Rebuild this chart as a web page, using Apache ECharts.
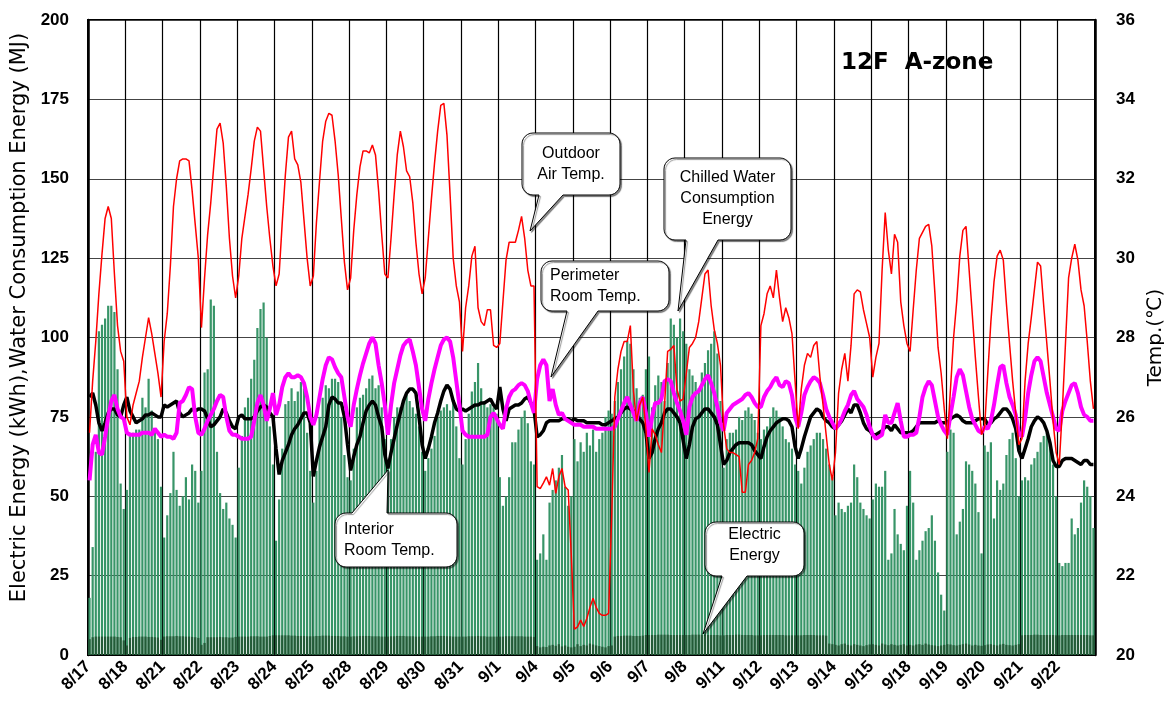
<!DOCTYPE html>
<html>
<head>
<meta charset="utf-8">
<script src="https://cdn.jsdelivr.net/npm/echarts@6/dist/echarts.min.js"></script>
<style>
  html, body { margin: 0; padding: 0; background: #fff; }
  #chart { width: 1164px; height: 718px; }
</style>
</head>
<body>
<div id="chart"></div>
<script>
// Measurement days (12 two-hour readings per day)
const days = ['8/17','8/18','8/21','8/22','8/23','8/24','8/25','8/28','8/29','8/30','8/31','9/1','9/4',
  '9/5','9/6','9/7','9/8','9/11','9/12','9/13','9/14','9/15','9/18','9/19','9/20','9/21','9/22'];
const slotsPerDay = 12;

// Outdoor air temperature (°C)
const outdoorTemp = [
  25.6, 26.9, 27.9, 29.1, 30.1, 31.0, 31.3, 31.0, 29.6, 28.3, 27.65, 27.4,
  26.0, 25.8, 26.3, 26.6, 26.9, 27.5, 28.0, 28.5, 28.1, 27.6, 27.1, 26.5,
  27.9, 28.6, 29.8, 31.3, 32.0, 32.45, 32.5, 32.5, 32.45, 31.7, 30.85, 30.0,
  28.25, 29.5, 30.6, 31.4, 32.35, 33.25, 33.4, 32.9, 31.8, 30.5, 29.55, 29.0,
  29.55, 30.5, 31.05, 31.6, 32.25, 32.95, 33.3, 33.2, 32.25, 31.3, 30.5, 29.8,
  29.3, 29.6, 30.9, 32.1, 33.05, 33.2, 32.5, 32.35, 31.9, 30.95, 30.0, 29.3,
  29.55, 30.9, 31.95, 32.95, 33.45, 33.65, 33.6, 32.95, 32.1, 31.0, 29.9, 29.2,
  29.5, 30.7, 31.6, 32.3, 32.7, 32.7, 32.65, 32.85, 32.6, 31.7, 30.6, 29.6,
  29.5, 30.5, 31.6, 32.6, 33.2, 32.8, 32.2, 32.05, 31.4, 30.4, 29.6, 29.1,
  29.5, 30.5, 31.5, 32.4, 33.2, 33.85, 33.9, 33.1, 31.6, 30.0, 29.3, 28.9,
  27.65, 28.75, 29.3, 30.05, 30.3, 28.75, 28.4, 28.3, 28.7, 28.7, 27.8, 27.75,
  27.85, 28.9, 29.95, 30.4, 30.4, 30.4, 30.7, 31.05, 30.5, 29.7, 29.3, 29.3,
  24.24, 24.19, 24.33, 24.49, 24.28, 24.7, 24.07, 24.49, 24.7, 24.24, 24.16, 22.5,
  20.65, 20.71, 20.88, 20.72, 20.92, 21.2, 21.43, 21.2, 21.05, 21.0, 21.0, 21.05,
  23.5, 26.5, 27.2, 27.65, 27.9, 27.9, 28.3, 26.65, 25.9, 26.3, 26.5, 25.7,
  24.6, 25.7, 25.55, 25.3, 25.1, 26.3, 27.65, 27.7, 27.8, 26.7, 26.4, 26.45,
  27.1, 27.75, 27.85, 28.0, 28.4, 29.0, 29.6, 29.7, 28.8, 28.2, 27.85, 27.3,
  25.8, 25.2, 25.1, 25.1, 25.05, 25.0, 24.1, 24.1, 24.8, 24.9, 25.1, 25.45,
  28.3, 28.6, 29.1, 29.3, 29.0, 29.7, 29.0, 28.4, 28.75, 28.5, 28.1, 26.9,
  25.7, 26.7, 27.3, 27.6, 27.5, 27.8, 27.9, 27.0, 26.3, 25.55, 24.8, 24.4,
  25.1, 26.6, 27.2, 27.6, 26.9, 27.8, 29.1, 29.2, 29.15, 28.7, 28.35, 28.0,
  27.0, 27.5, 27.85, 29.7, 31.15, 30.2, 29.6, 30.6, 30.4, 28.9, 28.3, 27.85,
  27.65, 28.7, 29.7, 30.5, 30.65, 30.8, 30.85, 30.3, 29.1, 27.75, 27.1, 26.2,
  25.45, 26.7, 28.0, 28.9, 30.05, 30.7, 30.8, 29.7, 28.6, 27.5, 26.5, 25.55,
  25.75, 27.1, 28.4, 29.4, 30.05, 30.2, 29.95, 28.85, 27.85, 26.9, 26.1, 25.3,
  25.45, 26.9, 27.85, 28.5, 29.2, 29.9, 29.8, 28.8, 27.85, 26.9, 25.9, 25.1,
  24.8, 26.2, 27.85, 29.5, 30.0, 30.35, 29.95, 29.2, 28.8, 27.9, 26.9, 26.2
];

// Perimeter room temperature (°C)
const perimeterTemp = [
  24.4, 25.3, 25.55, 25.1, 25.05, 25.5, 26.0, 26.4, 26.55, 26.2, 26.0, 25.95,
  25.6, 25.55, 25.55, 25.55, 25.55, 25.6, 25.6, 25.6, 25.55, 25.7, 25.6, 25.5,
  25.55, 25.5, 25.5, 25.45, 25.6, 26.35, 26.4, 26.55, 26.75, 26.7, 26.0, 25.6,
  25.55, 25.7, 25.9, 26.05, 26.2, 26.4, 26.55, 26.5, 26.0, 25.65, 25.55, 25.55,
  25.5, 25.45, 25.45, 25.45, 25.5, 25.9, 26.35, 26.55, 26.3, 25.9, 26.2, 26.6,
  26.05, 26.3, 26.75, 27.0, 27.1, 27.0, 27.0, 27.05, 27.0, 26.85, 26.5, 26.0,
  25.8, 26.05, 26.5, 26.95, 27.3, 27.5, 27.45, 27.25, 27.1, 27.0, 26.5, 26.0,
  25.75, 26.3, 26.7, 27.05, 27.35, 27.6, 27.85, 28.0, 27.85, 27.3, 26.85, 26.3,
  25.55, 26.3, 26.85, 27.2, 27.55, 27.8, 27.9, 27.95, 27.65, 27.3, 26.75, 26.2,
  25.9, 26.45, 26.85, 27.2, 27.5, 27.8, 27.95, 28.0, 27.9, 27.5, 26.9, 26.3,
  25.65, 25.55, 25.5, 25.5, 25.5, 25.5, 25.5, 25.5, 25.55, 26.0, 26.1, 25.95,
  25.8, 25.7, 26.2, 26.5, 26.65, 26.7, 26.8, 26.85, 26.8, 26.65, 26.35, 26.1,
  26.95, 27.3, 27.45, 27.3, 26.4, 26.7, 26.3, 26.05, 26.1, 25.95, 25.9, 25.85,
  25.8, 25.8, 25.8, 25.75, 25.75, 25.75, 25.75, 25.7, 25.7, 25.7, 25.7, 25.7,
  25.7, 25.75, 25.95, 26.15, 26.35, 26.5, 26.3, 26.1, 25.9, 26.35, 26.5, 26.1,
  25.5, 26.0, 26.35, 26.35, 26.45, 26.9, 26.95, 26.9, 26.6, 26.35, 26.15, 25.9,
  25.55, 26.25, 26.5, 26.6, 26.65, 26.8, 26.95, 27.05, 26.85, 26.6, 26.25, 25.85,
  25.65, 26.1, 26.2, 26.3, 26.35, 26.4, 26.45, 26.55, 26.6, 26.5, 26.35, 26.25,
  26.25, 26.5, 26.65, 26.75, 26.9, 27.0, 26.8, 26.75, 26.9, 26.85, 26.55, 26.0,
  25.75, 26.1, 26.55, 26.75, 26.9, 27.0, 26.95, 26.85, 26.55, 26.2, 26.0, 25.85,
  25.7, 25.8, 25.95, 26.15, 26.3, 26.55, 26.65, 26.45, 26.35, 26.25, 26.05, 25.75,
  25.55, 25.45, 25.5, 25.55, 26.05, 25.85, 25.85, 26.1, 26.35, 25.9, 25.5, 25.5,
  25.55, 25.55, 25.6, 26.0, 26.5, 26.75, 26.9, 26.8, 26.4, 26.0, 25.8, 25.65,
  25.55, 26.05, 26.5, 27.0, 27.2, 27.05, 26.65, 26.25, 25.95, 25.8, 25.65, 25.6,
  25.75, 25.7, 25.9, 26.3, 26.8, 27.25, 27.3, 26.85, 26.5, 26.3, 26.05, 25.6,
  25.5, 25.95, 26.6, 27.05, 27.4, 27.5, 27.4, 27.0, 26.6, 26.3, 26.0, 25.7,
  25.65, 26.15, 26.4, 26.6, 26.8, 26.85, 26.6, 26.25, 26.05, 26.0, 25.9, 25.9
];

// Interior room temperature (°C)
const interiorTemp = [
  26.5, 26.6, 26.3, 25.85, 25.65, 25.85, 26.1, 26.2, 26.2, 26.05, 26.0, 26.3,
  26.5, 26.15, 26.0, 25.85, 25.9, 25.95, 26.05, 26.05, 26.1, 26.05, 26.0, 26.0,
  26.3, 26.25, 26.3, 26.35, 26.4, 26.1, 26.0, 26.05, 26.1, 26.2, 26.15, 26.2,
  26.2, 26.15, 25.95, 25.75, 25.8, 25.9, 26.0, 26.2, 26.1, 25.9, 25.75, 25.7,
  26.0, 26.05, 25.95, 25.95, 25.95, 26.0, 26.15, 26.25, 26.3, 26.25, 26.1, 26.0,
  25.2, 24.55, 24.9, 25.1, 25.3, 25.55, 25.7, 25.8, 25.95, 26.1, 26.1, 25.85,
  24.5, 24.9, 25.25, 25.5, 25.75, 26.3, 26.5, 26.45, 26.35, 26.35, 26.0, 25.3,
  24.65, 25.0, 25.3, 25.5, 25.85, 26.15, 26.3, 26.4, 26.3, 26.0, 25.75, 25.05,
  24.7, 25.1, 25.45, 25.8, 26.1, 26.4, 26.6, 26.7, 26.7, 26.6, 26.0, 25.3,
  24.95, 25.2, 25.5, 25.85, 26.1, 26.4, 26.65, 26.8, 26.7, 26.4, 26.2, 26.15,
  26.2, 26.15, 26.2, 26.25, 26.3, 26.3, 26.35, 26.35, 26.4, 26.45, 26.3, 26.2,
  26.75, 26.2, 25.9, 26.2, 26.25, 26.3, 26.3, 26.35, 26.45, 26.5, 26.35, 26.2,
  25.5, 25.55, 25.65, 25.85, 25.9, 25.9, 25.9, 25.9, 25.95, 25.95, 25.95, 25.9,
  25.95, 25.9, 25.9, 25.9, 25.85, 25.85, 25.85, 25.85, 25.85, 25.8, 25.8, 25.85,
  25.9, 25.95, 26.0, 26.1, 26.2, 26.25, 26.2, 26.15, 26.05, 25.95, 25.85, 25.6,
  24.95, 25.1, 25.45, 25.7, 25.85, 26.1, 26.2, 26.2, 26.1, 26.0, 25.85, 25.4,
  24.95, 25.3, 25.75, 25.95, 26.0, 26.1, 26.2, 26.2, 26.1, 26.0, 25.8, 25.3,
  24.8, 24.9, 25.1, 25.2, 25.3, 25.35, 25.35, 25.35, 25.35, 25.3, 25.15, 25.05,
  24.95, 25.25, 25.5, 25.65, 25.75, 25.85, 25.9, 25.95, 25.95, 25.9, 25.75, 25.25,
  24.95, 25.2, 25.5, 25.75, 26.0, 26.1, 26.2, 26.15, 26.0, 25.9, 25.85, 25.75,
  25.7, 25.8, 25.9, 26.05, 26.2, 26.1, 26.3, 26.3, 26.1, 25.85, 25.7, 25.65,
  25.55, 25.55, 25.6, 25.65, 25.75, 25.75, 25.65, 25.8, 25.7, 25.6, 25.6, 25.6,
  25.6, 25.65, 25.75, 25.85, 25.85, 25.85, 25.85, 25.85, 25.85, 25.9, 25.85, 25.85,
  25.85, 25.95, 26.0, 26.05, 26.0, 25.9, 25.85, 25.85, 25.85, 25.9, 25.95, 25.95,
  25.95, 25.8, 25.85, 25.95, 26.0, 26.1, 26.2, 26.2, 26.1, 25.95, 25.7, 25.15,
  24.95, 25.2, 25.45, 25.75, 25.9, 26.0, 25.95, 25.85, 25.65, 25.35, 24.9, 24.75,
  24.75, 24.9, 24.95, 24.95, 24.95, 24.9, 24.85, 24.8, 24.9, 24.9, 24.8, 24.8
];

// Chilled water consumption energy (MJ)
const chilledWater = [
  18, 34, 64, 102, 104, 106, 110, 110, 108, 90, 54, 46,
  52, 70, 70, 71, 71, 81, 78, 87, 77, 71, 68, 53,
  37, 44, 51, 64, 52, 47, 50, 56, 49, 60, 58, 48,
  58, 89, 90, 112, 110, 64, 51, 46, 48, 43, 41, 37,
  59, 69, 78, 81, 87, 93, 103, 109, 111, 100, 72, 60,
  36, 49, 65, 79, 80, 84, 80, 83, 86, 84, 70, 58,
  48, 58, 75, 81, 85, 84, 87, 87, 86, 75, 63, 56,
  55, 65, 78, 81, 82, 84, 87, 88, 84, 85, 78, 68,
  59, 68, 75, 78, 78, 80, 82, 80, 78, 76, 72, 64,
  58, 62, 65, 69, 75, 77, 78, 79, 77, 80, 72, 62,
  60, 68, 76, 83, 86, 92, 84, 80, 78, 79, 78, 76,
  56, 47, 50, 56, 67, 67, 71, 75, 77, 73, 61, 60,
  30, 32, 38, 30, 48, 52, 55, 59, 63, 53, 47, 50,
  68, 61, 67, 64, 70, 66, 71, 64, 68, 70, 75, 77,
  76, 80, 86, 90, 94, 99, 98, 90, 84, 81, 82, 90,
  94, 78, 85, 88, 86, 80, 92, 106, 104, 100, 106, 102,
  98, 90, 88, 86, 84, 89, 92, 96, 98, 102, 95, 80,
  59, 68, 70, 70, 71, 75, 74, 77, 78, 76, 74, 70,
  68, 71, 72, 75, 78, 77, 75, 72, 68, 67, 65, 60,
  58, 54, 59, 64, 66, 68, 70, 70, 68, 65, 60, 56,
  44, 48, 46, 45, 47, 48, 60, 56, 48, 46, 44, 43,
  49, 54, 53, 53, 58, 30, 32, 46, 38, 35, 33, 47,
  58, 48, 30, 33, 36, 39, 40, 44, 36, 26, 19, 14,
  64, 71, 70, 38, 42, 46, 61, 60, 58, 54, 45, 32,
  66, 64, 67, 43, 55, 52, 54, 63, 68, 70, 62, 50,
  55, 56, 55, 60, 62, 64, 67, 69, 70, 66, 60, 50,
  29, 28, 29, 29, 43, 38, 40, 48, 55, 53, 50, 40
];

// Electric energy (kWh)
const electricEnergy = [
  5.0, 5.6, 5.8, 5.8, 5.8, 5.8, 5.8, 5.8, 5.8, 5.7, 5.6, 4.6,
  3.0, 5.4, 5.7, 5.7, 5.8, 5.8, 5.8, 5.7, 5.7, 5.6, 5.5, 4.8,
  5.8, 5.9, 5.9, 5.9, 6.0, 5.9, 5.9, 5.8, 5.8, 5.7, 5.6, 5.4,
  3.2, 3.8, 5.6, 5.6, 5.6, 5.6, 5.7, 5.6, 5.6, 5.5, 5.5, 5.7,
  5.8, 5.8, 5.8, 5.8, 5.9, 5.9, 5.9, 5.8, 5.8, 5.8, 6.0, 6.2,
  6.2, 6.2, 6.2, 6.2, 6.2, 6.1, 6.1, 6.0, 6.0, 6.0, 5.9, 5.9,
  5.9, 6.0, 6.0, 6.1, 6.1, 6.1, 6.0, 6.0, 6.0, 5.9, 5.9, 5.8,
  5.8, 5.9, 5.9, 6.0, 6.0, 6.0, 6.0, 5.9, 5.9, 5.9, 5.8, 5.8,
  5.8, 5.9, 5.9, 6.0, 6.0, 6.0, 5.9, 5.9, 5.9, 5.8, 5.8, 5.8,
  5.8, 5.8, 5.9, 5.9, 6.0, 6.0, 6.0, 5.9, 5.9, 5.8, 5.8, 5.8,
  5.8, 5.8, 5.9, 5.9, 5.9, 6.0, 5.9, 5.9, 5.8, 5.8, 5.8, 5.8,
  5.8, 5.8, 5.9, 5.9, 5.9, 5.9, 5.9, 5.9, 5.8, 5.8, 5.8, 5.7,
  2.8, 2.4, 2.6, 2.5, 3.0, 3.2, 2.9, 3.4, 2.7, 3.0, 2.6, 2.4,
  2.6, 3.4, 2.8, 3.2, 3.0, 3.6, 3.3, 3.0, 2.8, 2.6, 2.4, 2.8,
  3.0, 5.8, 6.0, 6.0, 6.1, 6.1, 6.1, 6.0, 6.0, 6.0, 6.1, 6.3,
  6.3, 6.3, 6.3, 6.4, 6.4, 6.4, 6.4, 6.3, 6.3, 6.3, 6.3, 6.3,
  6.3, 6.3, 6.4, 6.4, 6.4, 6.4, 6.3, 6.3, 6.3, 6.3, 6.3, 6.2,
  6.2, 6.3, 6.3, 6.3, 6.4, 6.4, 6.3, 6.3, 6.3, 6.3, 6.2, 6.2,
  6.2, 6.3, 6.3, 6.3, 6.3, 6.3, 6.3, 6.3, 6.2, 6.2, 6.2, 6.2,
  6.2, 6.2, 6.3, 6.3, 6.3, 6.3, 6.2, 6.2, 6.2, 6.1, 3.6, 3.4,
  3.2, 3.0, 3.4, 3.6, 3.2, 3.0, 3.4, 3.2, 3.0, 2.8, 3.1, 3.3,
  3.4, 3.2, 3.0, 3.6, 3.3, 3.1, 3.4, 3.2, 3.0, 3.2, 3.4, 3.0,
  3.2, 3.0, 3.3, 3.4, 3.2, 3.6, 3.3, 3.1, 3.0, 2.8, 3.0, 3.2,
  3.4, 3.3, 3.1, 3.0, 3.2, 3.4, 3.6, 3.3, 3.0, 3.2, 3.0, 2.9,
  3.1, 3.3, 3.4, 3.2, 3.0, 3.3, 3.5, 3.2, 3.1, 3.0, 3.2, 3.4,
  6.2, 6.3, 6.3, 6.3, 6.4, 6.4, 6.3, 6.3, 6.3, 6.3, 6.3, 6.2,
  6.2, 6.3, 6.3, 6.3, 6.3, 6.3, 6.3, 6.3, 6.3, 6.3, 6.2, 6.2
];

// Place each reading at the centre of its two-hour slot
function toPoints(values) {
  return values.map((v, i) => [i + 0.5, v]);
}

// Rounded speech-bubble outline with a pointer on its top or bottom edge
function calloutPoints(x, y, w, h, r, tail) {
  const pts = [];
  const arc = (cx, cy, a0, a1) => {
    for (let k = 0; k <= 6; k++) {
      const a = a0 + (a1 - a0) * k / 6;
      pts.push([cx + r * Math.cos(a), cy + r * Math.sin(a)]);
    }
  };
  arc(x + r, y + r, Math.PI, 1.5 * Math.PI);
  if (tail.side === 'top') pts.push([tail.a, y], [tail.tx, tail.ty], [tail.b, y]);
  arc(x + w - r, y + r, 1.5 * Math.PI, 2 * Math.PI);
  arc(x + w - r, y + h - r, 0, 0.5 * Math.PI);
  if (tail.side === 'bottom') pts.push([tail.b, y + h], [tail.tx, tail.ty], [tail.a, y + h]);
  arc(x + r, y + h - r, 0.5 * Math.PI, Math.PI);
  return pts;
}

function callout(box, tail, text, align) {
  const tx = align === 'left' ? box.x + 9 : box.x + box.w / 2;
  return {
    type: 'group',
    z: 100,
    children: [
      {
        type: 'polygon',
        z: 100,
        shape: { points: calloutPoints(box.x, box.y, box.w, box.h, 11, tail) },
        style: {
          fill: '#fff', stroke: '#000', lineWidth: 1,
          shadowColor: 'rgba(0,0,0,0.45)', shadowOffsetX: 1.5, shadowOffsetY: 1.5, shadowBlur: 1
        }
      },
      {
        type: 'text',
        z: 101,
        style: {
          text: text, x: tx, y: box.y + box.h / 2 + (box.dy || 0),
          textAlign: align === 'left' ? 'left' : 'center',
          textVerticalAlign: 'middle',
          font: '16px "Liberation Sans", Arial, sans-serif',
          lineHeight: 21, fill: '#000'
        }
      }
    ]
  };
}

const chart = echarts.init(document.getElementById('chart'));

chart.setOption({
  animation: false,
  backgroundColor: '#fff',
  textStyle: { fontFamily: '"Liberation Sans", Arial, sans-serif' },
  title: {
    text: '12F  A-zone',
    left: 836, top: 47,
    textStyle: { fontFamily: '"DejaVu Sans", sans-serif', fontWeight: 'bold', fontSize: 23, color: '#000' }
  },
  grid: {
    left: 88, right: 69, top: 20, bottom: 63,
    containLabel: false,
    outerBoundsMode: 'none',
    show: true, borderColor: '#000', borderWidth: 2, backgroundColor: 'transparent'
  },
  xAxis: {
    type: 'value',
    min: 0,
    max: days.length * slotsPerDay,
    interval: slotsPerDay,
    axisLine: { show: true, lineStyle: { color: '#000', width: 2 } },
    axisTick: { show: false },
    splitLine: { show: true, lineStyle: { color: '#000', width: 1.2 } },
    axisLabel: {
      rotate: 45,
      margin: 9,
      color: '#000',
      fontWeight: 'bold',
      fontSize: 17,
      formatter: (v) => {
        const d = Math.round(v / slotsPerDay);
        return d < days.length ? days[d] : '';
      }
    }
  },
  yAxis: [
    {
      type: 'value',
      position: 'left',
      min: 0, max: 200, interval: 25,
      name: 'Electric Energy (kWh),Water Consumption Energy (MJ)',
      nameLocation: 'middle',
      nameRotate: 90,
      nameGap: 57,
      nameTextStyle: {
        fontSize: 21, color: '#000', fontFamily: '"DejaVu Sans", sans-serif',
        padding: [0, 0, 0, 40]
      },
      axisLine: { show: true, lineStyle: { color: '#000', width: 2.5 } },
      axisTick: { show: false },
      axisLabel: { color: '#000', fontWeight: 'bold', fontSize: 17, margin: 19 },
      splitLine: { show: true, lineStyle: { color: '#444', width: 1.2 } }
    },
    {
      type: 'value',
      position: 'right',
      min: 20, max: 36, interval: 2,
      name: 'Temp.(℃)',
      nameLocation: 'middle',
      nameRotate: 90,
      nameGap: 47,
      nameTextStyle: { fontSize: 20, color: '#000', fontFamily: '"DejaVu Sans", sans-serif' },
      axisLine: { show: true, lineStyle: { color: '#000', width: 2.5 } },
      axisTick: { show: false },
      axisLabel: { color: '#000', fontWeight: 'bold', fontSize: 17, margin: 21 },
      splitLine: { show: false }
    }
  ],
  series: [
    {
      name: 'Chilled Water Consumption Energy',
      type: 'bar',
      yAxisIndex: 0,
      data: toPoints(chilledWater),
      barWidth: 2.2,
      barGap: '-100%',
      itemStyle: { color: '#389568' },
      z: 1
    },
    {
      name: 'Electric Energy',
      type: 'bar',
      yAxisIndex: 0,
      data: toPoints(electricEnergy),
      barWidth: 2.2,
      barGap: '-100%',
      itemStyle: { color: '#235a37' },
      z: 2
    },
    {
      name: 'Interior Room Temp.',
      type: 'line',
      yAxisIndex: 1,
      data: toPoints(interiorTemp),
      symbol: 'none',
      lineStyle: { color: '#000', width: 3.5 },
      z: 3
    },
    {
      name: 'Perimeter Room Temp.',
      type: 'line',
      yAxisIndex: 1,
      data: toPoints(perimeterTemp),
      symbol: 'none',
      lineStyle: { color: '#ff00ff', width: 4 },
      z: 4
    },
    {
      name: 'Outdoor Air Temp.',
      type: 'line',
      yAxisIndex: 1,
      data: toPoints(outdoorTemp),
      symbol: 'none',
      lineStyle: { color: '#ff0000', width: 1.5 },
      z: 5
    }
  ],
  graphic: [
    callout({ x: 522, y: 133, w: 98, h: 62 },
      { side: 'bottom', a: 539, b: 563, tx: 530, ty: 231 }, 'Outdoor\nAir Temp.', 'center'),
    callout({ x: 541, y: 261, w: 128, h: 50 },
      { side: 'bottom', a: 567, b: 598, tx: 551, ty: 377 }, 'Perimeter\nRoom Temp.', 'left'),
    callout({ x: 664, y: 158, w: 127, h: 82 },
      { side: 'bottom', a: 686, b: 718, tx: 678, ty: 311 }, 'Chilled Water\nConsumption\nEnergy', 'center'),
    callout({ x: 335, y: 513, w: 122, h: 54 },
      { side: 'top', a: 352, b: 387, tx: 388, ty: 470 }, 'Interior\nRoom Temp.', 'left'),
    callout({ x: 705, y: 522, w: 99, h: 54, dy: -4 },
      { side: 'bottom', a: 722, b: 747, tx: 703, ty: 634 }, 'Electric\nEnergy', 'center')
  ]
});
</script>
</body>
</html>
